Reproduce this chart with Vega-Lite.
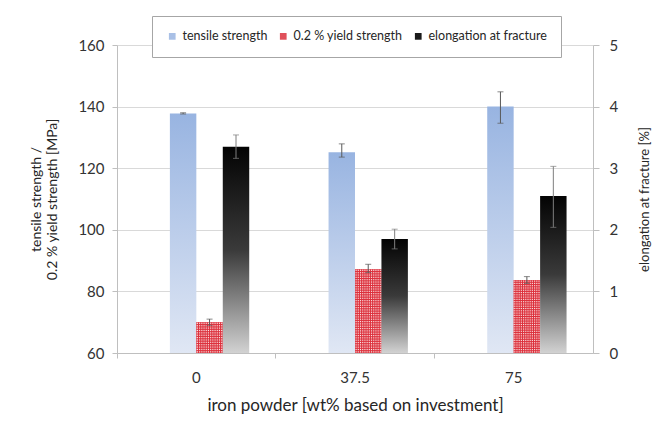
{
  "$schema": "https://vega.github.io/schema/vega-lite/v6.json",
  "width": 476,
  "height": 308,
  "autosize": {"type": "none"},
  "padding": {"left": 117, "top": 45, "right": 68, "bottom": 73},
  "background": "white",
  "config": {
    "font": "Lato",
    "view": {"stroke": null},
    "axis": {
      "labelFont": "Lato",
      "labelFontSize": 15,
      "labelColor": "#333333",
      "titleFont": "Lato",
      "titleFontSize": 16,
      "titleFontWeight": "normal",
      "titleColor": "#262626",
      "domainColor": "#bfbfbf",
      "tickColor": "#bfbfbf",
      "gridColor": "#d9d9d9"
    },
    "legend": {
      "orient": "none",
      "legendX": 35,
      "legendY": -29,
      "direction": "horizontal",
      "symbolType": "square",
      "symbolSize": 45,
      "symbolOpacity": 1,
      "symbolStrokeWidth": 0,
      "labelFont": "Lato",
      "labelFontSize": 12.5,
      "labelColor": "#262626",
      "columnPadding": 9,
      "labelOffset": 4,
      "padding": 14,
      "strokeColor": "#a6a6a6",
      "fillColor": "white"
    }
  },
  "data": {
    "values": [
      {"powder": "0", "series": "tensile strength", "value": 137.8, "lo": 137.6, "hi": 138.0},
      {"powder": "0", "series": "0.2 % yield strength", "value": 70.0, "lo": 69.0, "hi": 71.0},
      {"powder": "0", "series": "elongation at fracture", "value": 3.35, "lo": 3.16, "hi": 3.54},
      {"powder": "37.5", "series": "tensile strength", "value": 125.2, "lo": 123.6, "hi": 127.9},
      {"powder": "37.5", "series": "0.2 % yield strength", "value": 87.2, "lo": 86.1, "hi": 88.8},
      {"powder": "37.5", "series": "elongation at fracture", "value": 1.85, "lo": 1.69, "hi": 2.01},
      {"powder": "75", "series": "tensile strength", "value": 140.0, "lo": 134.6, "hi": 144.8},
      {"powder": "75", "series": "0.2 % yield strength", "value": 83.7, "lo": 82.6, "hi": 84.8},
      {"powder": "75", "series": "elongation at fracture", "value": 2.55, "lo": 2.04, "hi": 3.03}
    ]
  },
  "layer": [
    {
      "encoding": {
        "x": {
          "field": "powder", "type": "nominal", "sort": ["0", "37.5", "75"],
          "scale": {"paddingInner": 0, "paddingOuter": 0},
          "axis": {
            "orient": "bottom", "labelAngle": 0, "ticks": false, "tickSize": 0,
            "labelPadding": 17, "title": "iron powder [wt% based on investment]",
            "titleFontSize": 17, "titlePadding": 12, "domain": true, "grid": false
          }
        },
        "xOffset": {
          "field": "series", "type": "nominal",
          "scale": {"domain": ["s1", "s2", "tensile strength", "0.2 % yield strength", "elongation at fracture", "s6"], "paddingInner": 0, "paddingOuter": 0}
        }
      },
      "layer": [
        {
          "transform": [{"filter": "datum.series === 'tensile strength'"}],
          "mark": {
            "type": "bar",
            "fill": {"gradient": "linear", "x1": 0, "y1": 0, "x2": 0, "y2": 1,
              "stops": [{"offset": 0, "color": "#98b4e1"}, {"offset": 1, "color": "#e0e7f4"}]},
            "strokeWidth": 0
          },
          "encoding": {
            "y": {
              "field": "value", "type": "quantitative",
              "scale": {"domain": [60, 160], "nice": false, "zero": false},
              "axis": {
                "orient": "left", "values": [60, 80, 100, 120, 140, 160], "grid": true,
                "tickSize": 5, "labelPadding": 8,
                "title": ["tensile strength /", "0.2 % yield strength  [MPa]"],
                "titleFontSize": 14, "titlePadding": 18
              }
            },
            "y2": {"datum": 60}
          }
        },
        {
          "transform": [{"filter": "datum.series === '0.2 % yield strength'"}],
          "mark": {
            "type": "bar",
            "fill": {"gradient": "linear", "x1": 0, "y1": 0, "x2": 1, "y2": 0,
              "stops": [
                {"offset": 0, "color": "#dc2f3b"}, {"offset": 0.0417, "color": "#fdf2f2"},
                {"offset": 0.0833, "color": "#dc2f3b"}, {"offset": 0.125, "color": "#fdf2f2"},
                {"offset": 0.1667, "color": "#dc2f3b"}, {"offset": 0.2083, "color": "#fdf2f2"},
                {"offset": 0.25, "color": "#dc2f3b"}, {"offset": 0.2917, "color": "#fdf2f2"},
                {"offset": 0.3333, "color": "#dc2f3b"}, {"offset": 0.375, "color": "#fdf2f2"},
                {"offset": 0.4167, "color": "#dc2f3b"}, {"offset": 0.4583, "color": "#fdf2f2"},
                {"offset": 0.5, "color": "#dc2f3b"}, {"offset": 0.5417, "color": "#fdf2f2"},
                {"offset": 0.5833, "color": "#dc2f3b"}, {"offset": 0.625, "color": "#fdf2f2"},
                {"offset": 0.6667, "color": "#dc2f3b"}, {"offset": 0.7083, "color": "#fdf2f2"},
                {"offset": 0.75, "color": "#dc2f3b"}, {"offset": 0.7917, "color": "#fdf2f2"},
                {"offset": 0.8333, "color": "#dc2f3b"}, {"offset": 0.875, "color": "#fdf2f2"},
                {"offset": 0.9167, "color": "#dc2f3b"}, {"offset": 0.9583, "color": "#fdf2f2"},
                {"offset": 1, "color": "#dc2f3b"}
              ]},
            "strokeWidth": 0
          },
          "encoding": {
            "y": {"field": "value", "type": "quantitative"},
            "y2": {"datum": 60}
          }
        },
        {
          "transform": [{"filter": "datum.series === '0.2 % yield strength' && datum.powder === '0'"}],
          "mark": {
            "type": "bar",
            "fill": {"gradient": "linear", "x1": 0, "y1": 0, "x2": 0, "y2": 1,
              "stops": [
                {"offset": 0, "color": "#dc2f3b"}, {"offset": 0.0385, "color": "rgba(220,47,59,0)"},
                {"offset": 0.0769, "color": "#dc2f3b"}, {"offset": 0.1154, "color": "rgba(220,47,59,0)"},
                {"offset": 0.1538, "color": "#dc2f3b"}, {"offset": 0.1923, "color": "rgba(220,47,59,0)"},
                {"offset": 0.2308, "color": "#dc2f3b"}, {"offset": 0.2692, "color": "rgba(220,47,59,0)"},
                {"offset": 0.3077, "color": "#dc2f3b"}, {"offset": 0.3462, "color": "rgba(220,47,59,0)"},
                {"offset": 0.3846, "color": "#dc2f3b"}, {"offset": 0.4231, "color": "rgba(220,47,59,0)"},
                {"offset": 0.4615, "color": "#dc2f3b"}, {"offset": 0.5, "color": "rgba(220,47,59,0)"},
                {"offset": 0.5385, "color": "#dc2f3b"}, {"offset": 0.5769, "color": "rgba(220,47,59,0)"},
                {"offset": 0.6154, "color": "#dc2f3b"}, {"offset": 0.6538, "color": "rgba(220,47,59,0)"},
                {"offset": 0.6923, "color": "#dc2f3b"}, {"offset": 0.7308, "color": "rgba(220,47,59,0)"},
                {"offset": 0.7692, "color": "#dc2f3b"}, {"offset": 0.8077, "color": "rgba(220,47,59,0)"},
                {"offset": 0.8462, "color": "#dc2f3b"}, {"offset": 0.8846, "color": "rgba(220,47,59,0)"},
                {"offset": 0.9231, "color": "#dc2f3b"}, {"offset": 0.9615, "color": "rgba(220,47,59,0)"},
                {"offset": 1, "color": "#dc2f3b"}
              ]},
            "strokeWidth": 0
          },
          "encoding": {
            "y": {"field": "value", "type": "quantitative"},
            "y2": {"datum": 60}
          }
        },
        {
          "transform": [{"filter": "datum.series === '0.2 % yield strength' && datum.powder === '37.5'"}],
          "mark": {
            "type": "bar",
            "fill": {"gradient": "linear", "x1": 0, "y1": 0, "x2": 0, "y2": 1,
              "stops": [
                {"offset": 0, "color": "#dc2f3b"}, {"offset": 0.0139, "color": "rgba(220,47,59,0)"},
                {"offset": 0.0278, "color": "#dc2f3b"}, {"offset": 0.0417, "color": "rgba(220,47,59,0)"},
                {"offset": 0.0556, "color": "#dc2f3b"}, {"offset": 0.0694, "color": "rgba(220,47,59,0)"},
                {"offset": 0.0833, "color": "#dc2f3b"}, {"offset": 0.0972, "color": "rgba(220,47,59,0)"},
                {"offset": 0.1111, "color": "#dc2f3b"}, {"offset": 0.125, "color": "rgba(220,47,59,0)"},
                {"offset": 0.1389, "color": "#dc2f3b"}, {"offset": 0.1528, "color": "rgba(220,47,59,0)"},
                {"offset": 0.1667, "color": "#dc2f3b"}, {"offset": 0.1806, "color": "rgba(220,47,59,0)"},
                {"offset": 0.1944, "color": "#dc2f3b"}, {"offset": 0.2083, "color": "rgba(220,47,59,0)"},
                {"offset": 0.2222, "color": "#dc2f3b"}, {"offset": 0.2361, "color": "rgba(220,47,59,0)"},
                {"offset": 0.25, "color": "#dc2f3b"}, {"offset": 0.2639, "color": "rgba(220,47,59,0)"},
                {"offset": 0.2778, "color": "#dc2f3b"}, {"offset": 0.2917, "color": "rgba(220,47,59,0)"},
                {"offset": 0.3056, "color": "#dc2f3b"}, {"offset": 0.3194, "color": "rgba(220,47,59,0)"},
                {"offset": 0.3333, "color": "#dc2f3b"}, {"offset": 0.3472, "color": "rgba(220,47,59,0)"},
                {"offset": 0.3611, "color": "#dc2f3b"}, {"offset": 0.375, "color": "rgba(220,47,59,0)"},
                {"offset": 0.3889, "color": "#dc2f3b"}, {"offset": 0.4028, "color": "rgba(220,47,59,0)"},
                {"offset": 0.4167, "color": "#dc2f3b"}, {"offset": 0.4306, "color": "rgba(220,47,59,0)"},
                {"offset": 0.4444, "color": "#dc2f3b"}, {"offset": 0.4583, "color": "rgba(220,47,59,0)"},
                {"offset": 0.4722, "color": "#dc2f3b"}, {"offset": 0.4861, "color": "rgba(220,47,59,0)"},
                {"offset": 0.5, "color": "#dc2f3b"}, {"offset": 0.5139, "color": "rgba(220,47,59,0)"},
                {"offset": 0.5278, "color": "#dc2f3b"}, {"offset": 0.5417, "color": "rgba(220,47,59,0)"},
                {"offset": 0.5556, "color": "#dc2f3b"}, {"offset": 0.5694, "color": "rgba(220,47,59,0)"},
                {"offset": 0.5833, "color": "#dc2f3b"}, {"offset": 0.5972, "color": "rgba(220,47,59,0)"},
                {"offset": 0.6111, "color": "#dc2f3b"}, {"offset": 0.625, "color": "rgba(220,47,59,0)"},
                {"offset": 0.6389, "color": "#dc2f3b"}, {"offset": 0.6528, "color": "rgba(220,47,59,0)"},
                {"offset": 0.6667, "color": "#dc2f3b"}, {"offset": 0.6806, "color": "rgba(220,47,59,0)"},
                {"offset": 0.6944, "color": "#dc2f3b"}, {"offset": 0.7083, "color": "rgba(220,47,59,0)"},
                {"offset": 0.7222, "color": "#dc2f3b"}, {"offset": 0.7361, "color": "rgba(220,47,59,0)"},
                {"offset": 0.75, "color": "#dc2f3b"}, {"offset": 0.7639, "color": "rgba(220,47,59,0)"},
                {"offset": 0.7778, "color": "#dc2f3b"}, {"offset": 0.7917, "color": "rgba(220,47,59,0)"},
                {"offset": 0.8056, "color": "#dc2f3b"}, {"offset": 0.8194, "color": "rgba(220,47,59,0)"},
                {"offset": 0.8333, "color": "#dc2f3b"}, {"offset": 0.8472, "color": "rgba(220,47,59,0)"},
                {"offset": 0.8611, "color": "#dc2f3b"}, {"offset": 0.875, "color": "rgba(220,47,59,0)"},
                {"offset": 0.8889, "color": "#dc2f3b"}, {"offset": 0.9028, "color": "rgba(220,47,59,0)"},
                {"offset": 0.9167, "color": "#dc2f3b"}, {"offset": 0.9306, "color": "rgba(220,47,59,0)"},
                {"offset": 0.9444, "color": "#dc2f3b"}, {"offset": 0.9583, "color": "rgba(220,47,59,0)"},
                {"offset": 0.9722, "color": "#dc2f3b"}, {"offset": 0.9861, "color": "rgba(220,47,59,0)"},
                {"offset": 1, "color": "#dc2f3b"}
              ]},
            "strokeWidth": 0
          },
          "encoding": {
            "y": {"field": "value", "type": "quantitative"},
            "y2": {"datum": 60}
          }
        },
        {
          "transform": [{"filter": "datum.series === '0.2 % yield strength' && datum.powder === '75'"}],
          "mark": {
            "type": "bar",
            "fill": {"gradient": "linear", "x1": 0, "y1": 0, "x2": 0, "y2": 1,
              "stops": [
                {"offset": 0, "color": "#dc2f3b"}, {"offset": 0.0156, "color": "rgba(220,47,59,0)"},
                {"offset": 0.0313, "color": "#dc2f3b"}, {"offset": 0.0469, "color": "rgba(220,47,59,0)"},
                {"offset": 0.0625, "color": "#dc2f3b"}, {"offset": 0.0781, "color": "rgba(220,47,59,0)"},
                {"offset": 0.0938, "color": "#dc2f3b"}, {"offset": 0.1094, "color": "rgba(220,47,59,0)"},
                {"offset": 0.125, "color": "#dc2f3b"}, {"offset": 0.1406, "color": "rgba(220,47,59,0)"},
                {"offset": 0.1563, "color": "#dc2f3b"}, {"offset": 0.1719, "color": "rgba(220,47,59,0)"},
                {"offset": 0.1875, "color": "#dc2f3b"}, {"offset": 0.2031, "color": "rgba(220,47,59,0)"},
                {"offset": 0.2188, "color": "#dc2f3b"}, {"offset": 0.2344, "color": "rgba(220,47,59,0)"},
                {"offset": 0.25, "color": "#dc2f3b"}, {"offset": 0.2656, "color": "rgba(220,47,59,0)"},
                {"offset": 0.2813, "color": "#dc2f3b"}, {"offset": 0.2969, "color": "rgba(220,47,59,0)"},
                {"offset": 0.3125, "color": "#dc2f3b"}, {"offset": 0.3281, "color": "rgba(220,47,59,0)"},
                {"offset": 0.3438, "color": "#dc2f3b"}, {"offset": 0.3594, "color": "rgba(220,47,59,0)"},
                {"offset": 0.375, "color": "#dc2f3b"}, {"offset": 0.3906, "color": "rgba(220,47,59,0)"},
                {"offset": 0.4063, "color": "#dc2f3b"}, {"offset": 0.4219, "color": "rgba(220,47,59,0)"},
                {"offset": 0.4375, "color": "#dc2f3b"}, {"offset": 0.4531, "color": "rgba(220,47,59,0)"},
                {"offset": 0.4688, "color": "#dc2f3b"}, {"offset": 0.4844, "color": "rgba(220,47,59,0)"},
                {"offset": 0.5, "color": "#dc2f3b"}, {"offset": 0.5156, "color": "rgba(220,47,59,0)"},
                {"offset": 0.5313, "color": "#dc2f3b"}, {"offset": 0.5469, "color": "rgba(220,47,59,0)"},
                {"offset": 0.5625, "color": "#dc2f3b"}, {"offset": 0.5781, "color": "rgba(220,47,59,0)"},
                {"offset": 0.5938, "color": "#dc2f3b"}, {"offset": 0.6094, "color": "rgba(220,47,59,0)"},
                {"offset": 0.625, "color": "#dc2f3b"}, {"offset": 0.6406, "color": "rgba(220,47,59,0)"},
                {"offset": 0.6563, "color": "#dc2f3b"}, {"offset": 0.6719, "color": "rgba(220,47,59,0)"},
                {"offset": 0.6875, "color": "#dc2f3b"}, {"offset": 0.7031, "color": "rgba(220,47,59,0)"},
                {"offset": 0.7188, "color": "#dc2f3b"}, {"offset": 0.7344, "color": "rgba(220,47,59,0)"},
                {"offset": 0.75, "color": "#dc2f3b"}, {"offset": 0.7656, "color": "rgba(220,47,59,0)"},
                {"offset": 0.7813, "color": "#dc2f3b"}, {"offset": 0.7969, "color": "rgba(220,47,59,0)"},
                {"offset": 0.8125, "color": "#dc2f3b"}, {"offset": 0.8281, "color": "rgba(220,47,59,0)"},
                {"offset": 0.8438, "color": "#dc2f3b"}, {"offset": 0.8594, "color": "rgba(220,47,59,0)"},
                {"offset": 0.875, "color": "#dc2f3b"}, {"offset": 0.8906, "color": "rgba(220,47,59,0)"},
                {"offset": 0.9063, "color": "#dc2f3b"}, {"offset": 0.9219, "color": "rgba(220,47,59,0)"},
                {"offset": 0.9375, "color": "#dc2f3b"}, {"offset": 0.9531, "color": "rgba(220,47,59,0)"},
                {"offset": 0.9688, "color": "#dc2f3b"}, {"offset": 0.9844, "color": "rgba(220,47,59,0)"},
                {"offset": 1, "color": "#dc2f3b"}
              ]},
            "strokeWidth": 0
          },
          "encoding": {
            "y": {"field": "value", "type": "quantitative"},
            "y2": {"datum": 60}
          }
        },
        {
          "transform": [{"filter": "datum.series !== 'elongation at fracture'"}],
          "mark": {"type": "rule", "color": "#595959", "strokeWidth": 1},
          "encoding": {
            "y": {"field": "lo", "type": "quantitative"},
            "y2": {"field": "hi"}
          }
        },
        {
          "transform": [{"filter": "datum.series !== 'elongation at fracture'"}],
          "mark": {"type": "tick", "orient": "horizontal", "color": "#595959", "size": 6, "thickness": 1},
          "encoding": {"y": {"field": "lo", "type": "quantitative"}}
        },
        {
          "transform": [{"filter": "datum.series !== 'elongation at fracture'"}],
          "mark": {"type": "tick", "orient": "horizontal", "color": "#595959", "size": 6, "thickness": 1},
          "encoding": {"y": {"field": "hi", "type": "quantitative"}}
        },
        {
          "transform": [{"filter": "datum.series === 'tensile strength'"}],
          "mark": {"type": "point", "shape": "square", "filled": true, "opacity": 0},
          "encoding": {
            "y": {"field": "value", "type": "quantitative"},
            "color": {
              "field": "series", "type": "nominal",
              "scale": {"domain": ["tensile strength", "0.2 % yield strength", "elongation at fracture"],
                "range": ["#a9c0e6", "#e0505a", "#1a1a1a"]},
              "legend": {"title": null}
            }
          }
        }
      ]
    },
    {
      "encoding": {
        "x": {
          "field": "powder", "type": "nominal", "sort": ["0", "37.5", "75"],
          "scale": {"paddingInner": 0, "paddingOuter": 0},
          "axis": {
            "orient": "bottom", "bandPosition": 0, "labels": false, "ticks": true,
            "tickSize": 5, "title": null, "domain": false, "grid": false
          }
        },
        "xOffset": {
          "field": "series", "type": "nominal",
          "scale": {"domain": ["s1", "s2", "tensile strength", "0.2 % yield strength", "elongation at fracture", "s6"], "paddingInner": 0, "paddingOuter": 0}
        }
      },
      "layer": [
        {
          "transform": [{"filter": "datum.series === 'elongation at fracture'"}],
          "mark": {
            "type": "bar",
            "fill": {"gradient": "linear", "x1": 0, "y1": 0, "x2": 0, "y2": 1,
              "stops": [{"offset": 0, "color": "#030303"}, {"offset": 0.5, "color": "#3a3a3a"}, {"offset": 1, "color": "#d2d2d2"}]},
            "strokeWidth": 0
          },
          "encoding": {
            "y": {
              "field": "value", "type": "quantitative",
              "scale": {"domain": [0, 5], "nice": false, "zero": true},
              "axis": {
                "orient": "right", "values": [0, 1, 2, 3, 4, 5], "format": "d", "grid": false,
                "tickSize": 6, "labelPadding": 10,
                "title": "elongation at fracture [%]", "titleAngle": 270,
                "titleFontSize": 13, "titlePadding": 34
              }
            },
            "y2": {"datum": 0}
          }
        },
        {
          "transform": [{"filter": "datum.series === 'elongation at fracture'"}],
          "mark": {"type": "rule", "color": "#7f7f7f", "strokeWidth": 1},
          "encoding": {
            "y": {"field": "lo", "type": "quantitative"},
            "y2": {"field": "hi"}
          }
        },
        {
          "transform": [{"filter": "datum.series === 'elongation at fracture'"}],
          "mark": {"type": "tick", "orient": "horizontal", "color": "#7f7f7f", "size": 6, "thickness": 1},
          "encoding": {"y": {"field": "lo", "type": "quantitative"}}
        },
        {
          "transform": [{"filter": "datum.series === 'elongation at fracture'"}],
          "mark": {"type": "tick", "orient": "horizontal", "color": "#7f7f7f", "size": 6, "thickness": 1},
          "encoding": {"y": {"field": "hi", "type": "quantitative"}}
        }
      ]
    }
  ],
  "resolve": {"scale": {"y": "independent"}, "axis": {"x": "independent", "y": "independent"}}
}
